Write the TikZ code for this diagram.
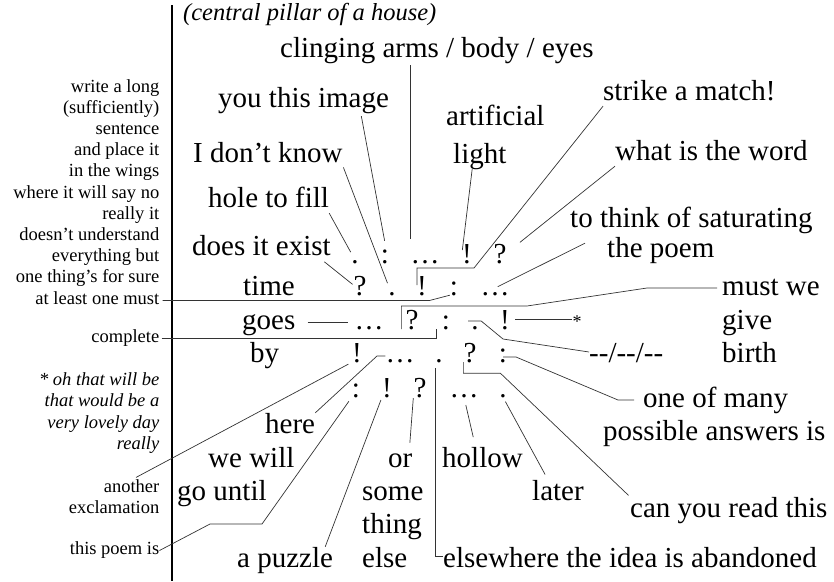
\documentclass[tikz,border=0pt]{standalone}
\usepackage{fontspec}
\setmainfont{Liberation Serif}
\begin{document}
    \begin{tikzpicture}[x=1pt, y=-1pt,
        word/.style={font=\fontsize{29}{32}\selectfont, inner sep=0pt, text height=20pt, text depth=6pt, anchor=base west},
        punct/.style={font=\fontsize{29}{32}\selectfont, inner sep=0pt, text height=20pt, text depth=0pt, anchor=base},
        wingtext/.style={font=\fontsize{18.5}{21}\selectfont, inner sep=0pt, text height=12pt, text depth=5pt, anchor=base east},
        thread/.style={draw=black!80, line width=0.7pt}]
        \useasboundingbox (0,0) rectangle (834,581);
        \draw[line width=1.6pt] (172,5) -- (172,581);
        \foreach \t [count=\i from 0] in {write a long, (sufficiently), sentence, and place it, in the wings, where it will say no, really it, doesn’t understand, everything but, one thing’s for sure}
            \node[wingtext] (wing\i) at (159.5, {92+21.2*\i}) {\t};
        \node[wingtext] (least) at (159.5,304) {at least one must};
        \node[wingtext] (complete) at (159.5,342) {complete};
        \foreach \t [count=\i from 0] in {* oh that will be, that would be a, very lovely day, really}
            \node[wingtext, font=\fontsize{18.5}{21}\selectfont\itshape] (note\i) at (159.5, {385+21.5*\i}) {\t};
        \node[wingtext] (another) at (159.5,492) {another};
        \node[wingtext] (excl) at (159.5,513) {exclamation};
        \node[wingtext] (thispoem) at (159.5,554) {this poem is};
        \node[anchor=base west, inner sep=0pt, font=\fontsize{24.5}{26}\selectfont\itshape] (pillar) at (183,20) {(central pillar of a house)};
        \node[word] (clinging) at (280,57) {clinging arms / body / eyes};
        \node[word] (youimage) at (218,107) {you this image};
        \node[word] (dontknow) at (193,162) {I don’t know};
        \node[word] (holefill) at (208,207) {hole to fill};
        \node[word] (doesexist) at (192,255) {does it exist};
        \node[word] (artificial) at (446,125) {artificial};
        \node[word] (light) at (453,163) {light};
        \node[word] (strike) at (603,100) {strike a match!};
        \node[word] (whatword) at (615,160) {what is the word};
        \node[word] (tothink) at (570,227) {to think of saturating};
        \node[word] (thepoem) at (607,257) {the poem};
        \node[word] (time) at (243,295) {time};
        \node[word] (goes) at (242,329) {goes};
        \node[word] (by) at (250,362) {by};
        \node[word] (mustwe) at (722,295) {must we};
        \node[word] (give) at (722,329) {give};
        \node[word] (birth) at (722,362) {birth};
        \node[word] (dashes) at (589,362) {-{}-/-{}-/-{}-};
        \node[anchor=base, inner sep=0pt, font=\fontsize{18}{18}\selectfont] (star) at (577,327) {*};
        \node[word] (onemany) at (643,407) {one of many};
        \node[word] (possible) at (603,440) {possible answers is};
        \node[word] (here) at (265,433) {here};
        \node[word] (wewill) at (208,467) {we will};
        \node[word] (gountil) at (177,500) {go until};
        \node[word] (apuzzle) at (237,567) {a puzzle};
        \node[word] (orword) at (388,467) {or};
        \node[word] (some) at (362,500) {some};
        \node[word] (thing) at (362,533) {thing};
        \node[word] (elseword) at (362,567) {else};
        \node[word] (hollow) at (442,467) {hollow};
        \node[word] (later) at (532,500) {later};
        \node[word] (canread) at (630,517) {can you read this};
        \node[word] (elsewhere) at (443,567) {elsewhere the idea is abandoned};
        \foreach \px/\ps [count=\i] in {355/., 385/:, 425/…, 467/!, 500/?}
            \node[punct] (a\i) at (\px,263) {\ps};
        \foreach \px/\ps [count=\i] in {360/?, 392/., 422/!, 454/:, 495/…}
            \node[punct] (b\i) at (\px,295) {\ps};
        \foreach \px/\ps [count=\i] in {369/…, 412/?, 446/:, 475/., 505/!}
            \node[punct] (c\i) at (\px,329) {\ps};
        \foreach \px/\ps [count=\i] in {357/!, 400/…, 439/., 470/?, 503/:}
            \node[punct] (d\i) at (\px,362) {\ps};
        \foreach \px/\ps [count=\i] in {356/:, 387/!, 420/?, 464/…, 503/.}
            \node[punct] (e\i) at (\px,397) {\ps};
        \draw[thread, shorten <=2pt, shorten >=4pt] (clinging.south -| a3.west) -- (a3.north west);
        \draw[thread, shorten <=3pt, shorten >=2pt] (youimage.-13) -- (a2.north);
        \draw[thread, shorten <=2pt, shorten >=2pt] (dontknow.-8) -- (b2.west);
        \draw[thread, shorten >=1pt] (holefill.south east) -- (a1.west);
        \draw[thread, shorten <=1pt, shorten >=1pt] (doesexist.-12) -- (b1.west);
        \draw[thread, shorten >=3pt] (light.-120) -- (a4.west);
        \draw[thread] (strike.south west) -- (474,268) -| (b3.west);
        \draw[thread, shorten >=17pt] (whatword.south west) -- (a5.east);
        \draw[thread, shorten >=3pt] ([shift={(15,10)}]tothink.south west) -- ([yshift=-3pt]b5.center);
        \draw[thread, shorten <=3pt] (least.east) -- ++(270,0) -- (b4.south west);
        \draw[thread, shorten <=12pt, shorten >=6pt] (goes.east) -- (goes.east -| c1.west);
        \draw[thread, shorten <=2pt] (complete.east) -| ([xshift=-5pt]c3.south west);
        \draw[thread, shorten <=5pt] (mustwe.west) -- (647,288) -- (527,306) -| ([xshift=-4pt]c2.south west);
        \draw[thread] ([shift={(-3,2)}]c4.west) -- ++(13,0) -- (503,339) -- ([yshift=3pt]dashes.west);
        \draw[thread, shorten <=5pt] (c5.east) -- (c5.east -| star.west);
        \draw[thread, shorten >=9pt] ([yshift=-5pt]d5.center) -- ++(13,0) -- (618,400) -- (onemany.west);
        \draw[thread, shorten >=2pt] (d4.south west) -- ++(0,11) -- ++(37,0) -- (canread.north west);
        \draw[thread] ([yshift=-6pt]d3.south west) |- ([yshift=4pt]elsewhere.west);
        \draw[thread] (here.north east) -- (377,356) -- ([yshift=-4pt]d2.west);
        \draw[thread, shorten <=4pt, shorten >=5pt] (d1.south west) -- (another.north);
        \draw[thread, shorten <=8pt, shorten >=10pt] (e4.south) -- ([xshift=-7pt]hollow.north);
        \draw[thread, shorten <=1pt, shorten >=4pt] (e3.south west) -- ([xshift=-3pt]orword.north east);
        \draw[thread, shorten <=3pt] (e2.south west) -- ([xshift=-8pt]apuzzle.north east);
        \draw[thread, shorten <=5pt, shorten >=6pt] (e5.south) -- ([xshift=16pt]later.north west);
        \draw[thread, shorten >=5pt] (thispoem.east) -- (210,524) -- (262,524) -- (e1.south west);
    \end{tikzpicture}
\end{document}
